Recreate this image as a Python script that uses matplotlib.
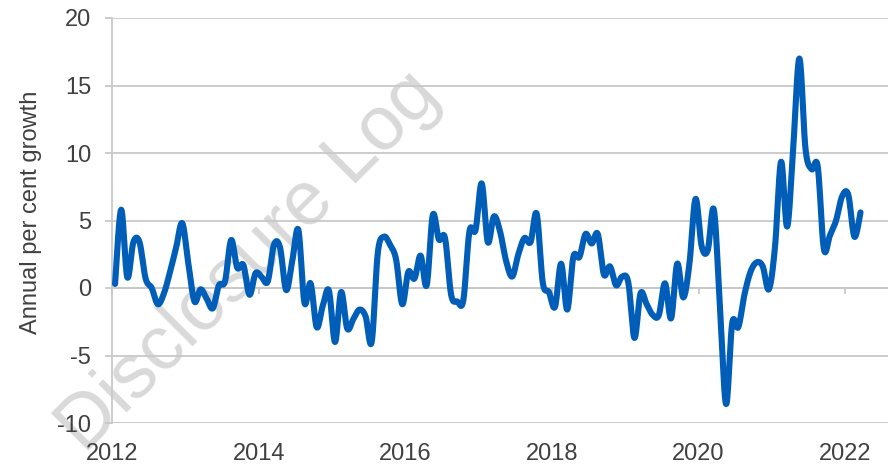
import numpy as np
import matplotlib.pyplot as plt

plt.rcParams['font.family'] = ['Liberation Sans', 'DejaVu Sans']

# monthly annual growth, Jan 2012 .. Mar 2022
growth = [0.3, 5.8, 0.8, 3.4, 3.4, 0.7, 0.0, -1.2, -0.4, 1.2,
          3.0, 4.8, 1.8, -1.0, -0.1, -0.8, -1.5, 0.2, 0.5, 3.55,
          1.5, 1.7, -0.5, 1.1, 0.8, 0.5, 3.2, 3.0, -0.15, 2.0,
          4.3, -1.1, 0.35, -2.9, -1.3, -0.2, -4.0, -0.3, -3.0, -2.3,
          -1.6, -2.1, -4.0, 2.6, 3.8, 3.2, 2.1, -1.2, 1.2, 0.7,
          2.4, 0.2, 5.4, 3.6, 3.7, -0.5, -1.0, -0.9, 4.2, 4.3,
          7.75, 3.4, 5.3, 4.2, 2.0, 0.85, 2.5, 3.7, 3.4, 5.5,
          0.4, -0.3, -1.4, 1.8, -1.6, 2.3, 2.3, 4.0, 3.3, 4.0,
          1.0, 1.6, 0.2, 0.85, 0.4, -3.7, -0.4, -1.2, -2.0, -2.0,
          0.35, -2.25, 1.8, -0.7, 1.8, 6.6, 3.1, 2.8, 5.8, -1.4,
          -8.6, -2.6, -2.9, -0.5, 1.2, 1.9, 1.6, -0.1, 3.0, 9.35,
          4.55, 10.5, 17.0, 10.3, 8.8, 9.0, 2.9, 3.9, 5.0, 6.8,
          6.9, 3.8, 5.6]
year_labels = ['2012', '2014', '2016', '2018', '2020', '2022']
y_ticks = [-10, -5, 0, 5, 10, 15, 20]

months = np.arange(len(growth)) + 0.5


def smooth(x, y, n=16):
    # excel style smoothed line (catmull-rom through the points)
    x = np.asarray(x, float)
    y = np.asarray(y, float)
    px = np.concatenate([[x[0]], x, [x[-1]]])
    py = np.concatenate([[y[0]], y, [y[-1]]])
    t = np.linspace(0, 1, n, endpoint=False)[:, None]
    xs, ys = [], []
    for p in (px, py):
        p0, p1, p2, p3 = p[:-3], p[1:-2], p[2:-1], p[3:]
        c1 = p1 + (p2 - p0) / 6
        c2 = p2 - (p3 - p1) / 6
        b = ((1 - t) ** 3 * p1 + 3 * (1 - t) ** 2 * t * c1
             + 3 * (1 - t) * t ** 2 * c2 + t ** 3 * p2)
        out = np.concatenate([b.T.ravel(), [p[-2]]])
        (xs if p is px else ys).append(out)
    return xs[0], ys[0]


grid_c = '#c8c8c8'
text_c = '#404040'

fig = plt.figure(figsize=(8.88, 4.66), dpi=100)
ax = fig.add_axes([112 / 888, 1 - 423 / 466, 1 - 112 / 888, (423 - 18) / 466])

sx, sy = smooth(months, growth)
ax.plot(sx, sy, color='#005eb8', lw=4.4, solid_capstyle='round', zorder=3)

ax.set_xlim(0, 127)
ax.set_ylim(-10, 20)
ax.set_yticks(y_ticks)
ax.set_yticklabels([str(v) for v in y_ticks])
ax.yaxis.grid(True, color=grid_c, lw=1.3)
# axis (ticks, labels, grid) above the watermark, below the line
ax.xaxis.set_zorder(2.5)
ax.yaxis.set_zorder(2.5)

for s in ['top', 'right']:
    ax.spines[s].set_visible(False)
ax.spines['left'].set_color(grid_c)
ax.spines['left'].set_linewidth(1.3)
ax.spines['bottom'].set_position(('data', 0))
ax.spines['bottom'].set_color(grid_c)
ax.spines['bottom'].set_linewidth(1.3)

ax.set_xticks([24 * i for i in range(len(year_labels))])
ax.tick_params(axis='x', direction='out', length=4, color=grid_c,
               width=1.3, labelbottom=False)
ax.tick_params(axis='y', direction='out', length=5, color=grid_c,
               width=1.3, labelsize=17, labelcolor=text_c, pad=10)

for i, lab in enumerate(year_labels):
    ax.text(24 * i, -12.74, lab, ha='center', va='baseline', fontsize=17,
            color=text_c, clip_on=False, zorder=4)

fig.text(31 / 888, 1 - 212 / 466, 'Annual per cent growth', rotation=90,
         ha='center', va='center', fontsize=17, color=text_c)

ax.text(250 / 888, 1 - 262 / 466, 'Disclosure Log', transform=fig.transFigure,
        rotation=45, rotation_mode='anchor', ha='center', va='center',
        fontsize=55, color='#d9d9d9', zorder=2, clip_on=False)

fig.savefig('out.png', dpi=100)
